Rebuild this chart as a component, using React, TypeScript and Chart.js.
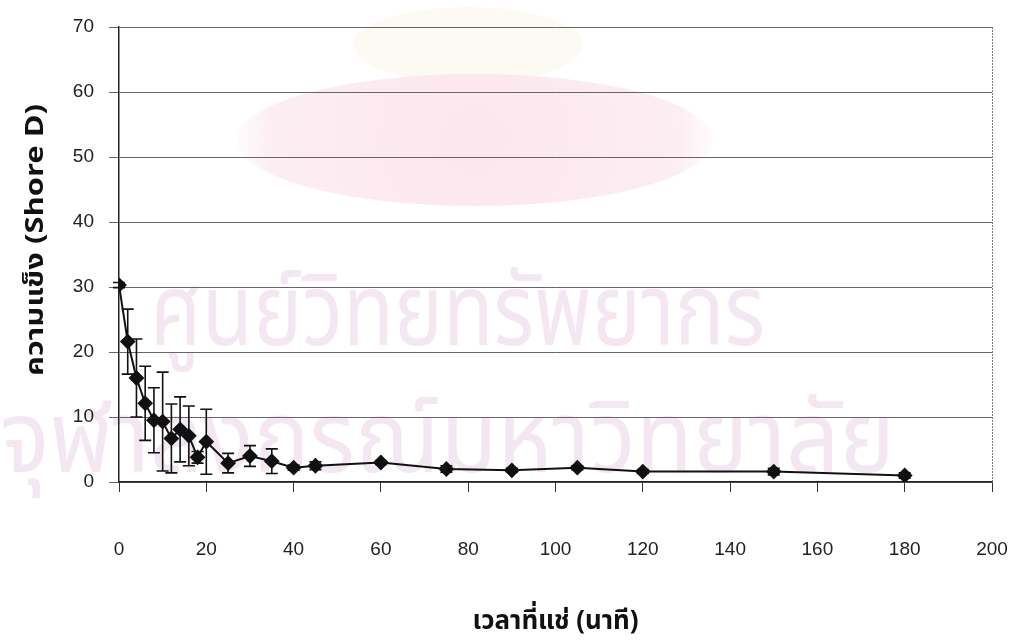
import React, { useEffect, useRef } from "react";
import { Chart, registerables } from "chart.js";

Chart.register(...registerables);

// Immersion time (minutes)
const times = [0, 2, 4, 6, 8, 10, 12, 14, 16, 18, 20, 25, 30, 35, 40, 45, 60, 75, 90, 105, 120, 150, 180];
// Mean hardness (Shore D)
const hardness = [30.3, 21.6, 16.0, 12.1, 9.5, 9.3, 6.7, 8.1, 7.1, 3.8, 6.2, 2.9, 4.0, 3.2, 2.2, 2.5, 3.0, 2.0, 1.8, 2.2, 1.6, 1.6, 1.0];
// Standard deviation of hardness
const hardnessSd = [0.4, 5.0, 6.0, 5.7, 5.0, 7.6, 5.3, 5.0, 4.6, 0.9, 5.0, 1.5, 1.6, 1.9, 0.4, 0.6, 0.3, 0.5, 0.3, 0.3, 0.3, 0.5, 0.4];

const xTicks = [0, 20, 40, 60, 80, 100, 120, 140, 160, 180, 200];
const yTicks = [0, 10, 20, 30, 40, 50, 60, 70];

const xTitle = "เวลาที่แช่ (นาที)";
const yTitle = "ความแข็ง (Shore D)";
const stampLines = ["ศูนย์วิทยทรัพยากร", "จุฬาลงกรณ์มหาวิทยาลัย"];

const THAI_FONT = "'Noto Sans Thai', 'Noto Sans Thai Looped', 'Loma', 'Garuda', 'Noto Sans', sans-serif";
const TICK_FONT = "'Liberation Sans', Arial, sans-serif";

// Faint library stamp behind the plot
const stampPlugin = {
  id: "stamp",
  beforeDraw(chart: any) {
    const ctx = chart.ctx as CanvasRenderingContext2D;
    ctx.save();
    ctx.fillStyle = "#ffffff";
    ctx.fillRect(0, 0, chart.width, chart.height);

    // crest: pale crown over a soft pink oval
    ctx.fillStyle = "rgba(251,248,238,0.7)";
    ctx.beginPath();
    ctx.ellipse(468, 45, 115, 38, 0, 0, Math.PI * 2);
    ctx.fill();
    const g = ctx.createRadialGradient(475, 140, 10, 475, 140, 240);
    g.addColorStop(0, "rgba(252,229,236,0.95)");
    g.addColorStop(0.85, "rgba(252,235,240,0.85)");
    g.addColorStop(1, "rgba(253,243,246,0.3)");
    ctx.fillStyle = g;
    ctx.beginPath();
    ctx.ellipse(475, 140, 238, 66, 0, 0, Math.PI * 2);
    ctx.fill();

    ctx.fillStyle = "rgba(244,231,241,1)";
    ctx.textBaseline = "alphabetic";
    ctx.textAlign = "left";
    const boxes = [
      { x: 150, w: 615, base: 345, size: 100 },
      { x: 0, w: 895, base: 472, size: 100 },
    ];
    stampLines.forEach((line, i) => {
      const b = boxes[i];
      ctx.font = `${b.size}px ${THAI_FONT}`;
      const m = ctx.measureText(line).width;
      ctx.save();
      ctx.translate(b.x, b.base);
      ctx.scale(b.w / m, 1);
      ctx.fillText(line, 0, 0);
      ctx.restore();
    });
    ctx.restore();
  },
};

// Error bars, plot frame and axis titles
const overlayPlugin = {
  id: "overlay",
  beforeDatasetsDraw(chart: any) {
    const ctx = chart.ctx as CanvasRenderingContext2D;
    const a = chart.chartArea;
    ctx.save();
    ctx.strokeStyle = "#777";
    ctx.lineWidth = 1;
    ctx.setLineDash([2, 1]);
    ctx.beginPath();
    ctx.moveTo(a.right + 0.5, a.top);
    ctx.lineTo(a.right + 0.5, a.bottom);
    ctx.stroke();
    ctx.restore();
  },
  afterDatasetsDraw(chart: any) {
    const ctx = chart.ctx as CanvasRenderingContext2D;
    const xs = chart.scales.x;
    const ys = chart.scales.y;
    ctx.save();
    ctx.strokeStyle = "#111";
    ctx.lineWidth = 1.6;
    times.forEach((t, i) => {
      const sd = hardnessSd[i];
      const px = xs.getPixelForValue(t);
      const top = ys.getPixelForValue(hardness[i] + sd);
      const bot = ys.getPixelForValue(Math.max(0, hardness[i] - sd));
      const cap = 6;
      ctx.beginPath();
      ctx.moveTo(px, top);
      ctx.lineTo(px, bot);
      ctx.moveTo(px - cap, top);
      ctx.lineTo(px + cap, top);
      ctx.moveTo(px - cap, bot);
      ctx.lineTo(px + cap, bot);
      ctx.stroke();
    });
    ctx.restore();
  },
  afterDraw(chart: any) {
    const ctx = chart.ctx as CanvasRenderingContext2D;
    const area = chart.chartArea;
    ctx.save();
    ctx.fillStyle = "#111";
    ctx.textAlign = "center";
    ctx.textBaseline = "middle";

    // x title, fitted to its printed width
    ctx.font = `bold 27px ${THAI_FONT}`;
    let w = ctx.measureText(xTitle).width;
    ctx.save();
    ctx.translate((area.left + area.right) / 2, 624);
    ctx.scale(166 / w, 1);
    ctx.fillText(xTitle, 0, 0);
    ctx.restore();

    // y title, rotated
    ctx.font = `bold 25px ${THAI_FONT}`;
    w = ctx.measureText(yTitle).width;
    ctx.translate(38, 240);
    ctx.rotate(-Math.PI / 2);
    ctx.scale(272 / w, 1);
    ctx.fillText(yTitle, 0, 0);
    ctx.restore();
  },
};

export default function App() {
  const ref = useRef<HTMLCanvasElement | null>(null);

  useEffect(() => {
    if (!ref.current) return;
    const chart = new Chart(ref.current, {
      type: "line",
      data: {
        datasets: [
          {
            data: times.map((t, i) => ({ x: t, y: hardness[i] })),
            borderColor: "#111",
            borderWidth: 2,
            pointStyle: "rectRot",
            pointRadius: 6.5,
            pointBackgroundColor: "#111",
            pointBorderColor: "#111",
            tension: 0,
          },
        ],
      },
      options: {
        responsive: false,
        animation: false,
        layout: { padding: { left: 0, top: 27, right: 22, bottom: 0 } },
        plugins: { legend: { display: false }, tooltip: { enabled: false } },
        scales: {
          x: {
            type: "linear",
            min: 0,
            max: 200,
            afterBuildTicks: (s: any) => {
              s.ticks = xTicks.map((v) => ({ value: v }));
            },
            afterFit: (s: any) => {
              s.height = 161;
              s.paddingLeft = 0;
              s.paddingRight = 0;
            },
            grid: {
              display: true,
              drawOnChartArea: false,
              drawTicks: true,
              tickLength: 10,
              color: "#333",
            },
            border: { display: true, color: "#222", width: 1.5 },
            ticks: {
              padding: 46,
              color: "#222",
              font: { family: TICK_FONT, size: 19 },
              maxRotation: 0,
            },
          },
          y: {
            type: "linear",
            min: 0,
            max: 70,
            afterBuildTicks: (s: any) => {
              s.ticks = yTicks.map((v) => ({ value: v }));
            },
            afterFit: (s: any) => {
              s.width = 119;
            },
            grid: {
              display: true,
              drawTicks: true,
              tickLength: 10,
              color: "#666",
              lineWidth: 1,
            },
            border: { display: true, color: "#222", width: 1.5 },
            ticks: {
              padding: 15,
              color: "#222",
              font: { family: TICK_FONT, size: 19 },
            },
          },
        },
      },
      plugins: [stampPlugin, overlayPlugin],
    });
    return () => chart.destroy();
  }, []);

  return (
    <div style={{ position: "fixed", left: 0, top: 0, width: 1014, height: 643, background: "#fff" }}>
      <canvas ref={ref} width={1014} height={643} />
    </div>
  );
}
